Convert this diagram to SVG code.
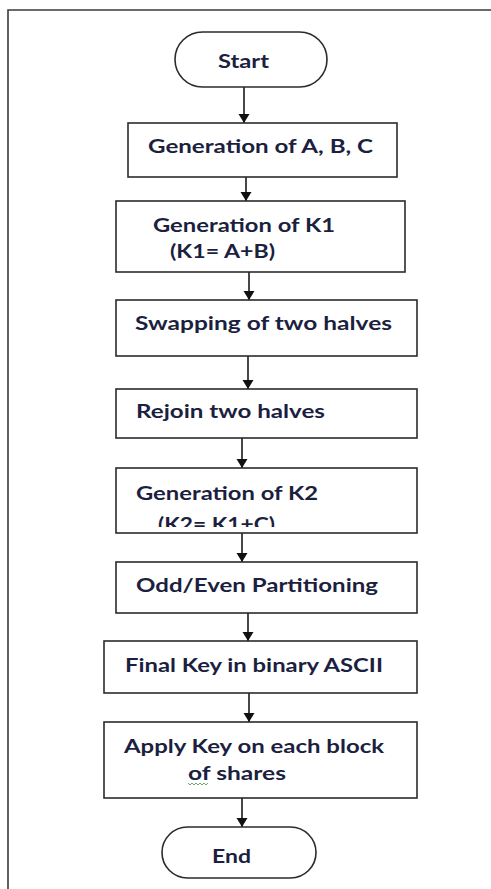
<svg xmlns="http://www.w3.org/2000/svg" width="491" height="889" viewBox="0 0 491 889">
<style>
.box{fill:#fff;stroke:#2b2b2b;stroke-width:1.6}
.t{font-family:Lato,"Open Sans","Liberation Sans",sans-serif;font-weight:bold;font-size:18px;fill:#1c1f40}
.c{stroke:#1a1a1a;stroke-width:1.6;fill:none}
</style>
<defs>
<marker id="ah" markerWidth="10" markerHeight="12" refX="9" refY="5.5" orient="auto" markerUnits="userSpaceOnUse">
<path d="M0,0 L9,5.5 L0,11 Z" fill="#111"/>
</marker>
<clipPath id="clipK2"><rect x="116" y="468" width="301" height="59"/></clipPath>
</defs>
<rect width="491" height="889" fill="#fff"/>
<path d="M8,889 V10 H491" fill="none" stroke="#3a3a3a" stroke-width="1.6"/>

<g id="connectors">
<line class="c" x1="244" y1="80" x2="244" y2="123" marker-end="url(#ah)"/>
<line class="c" x1="246" y1="172" x2="246" y2="201" marker-end="url(#ah)"/>
<line class="c" x1="249" y1="266" x2="249" y2="300" marker-end="url(#ah)"/>
<line class="c" x1="248" y1="350" x2="248" y2="389" marker-end="url(#ah)"/>
<line class="c" x1="242" y1="434" x2="242" y2="468" marker-end="url(#ah)"/>
<line class="c" x1="242" y1="533" x2="242" y2="562" marker-end="url(#ah)"/>
<line class="c" x1="248" y1="613" x2="248" y2="641" marker-end="url(#ah)"/>
<line class="c" x1="249" y1="693" x2="249" y2="722" marker-end="url(#ah)"/>
<line class="c" x1="242" y1="798" x2="242" y2="827" marker-end="url(#ah)"/>
</g>

<g id="start">
<rect class="box" x="175" y="32" width="152" height="55" rx="27.5" ry="27.5"/>
<text class="t" x="218" y="68" textLength="51" lengthAdjust="spacingAndGlyphs">Start</text>
</g>

<g id="genABC">
<rect class="box" x="128" y="123" width="269" height="54"/>
<text class="t" x="148" y="153" textLength="225" lengthAdjust="spacingAndGlyphs">Generation of A, B, C</text>
</g>

<g id="genK1">
<rect class="box" x="116" y="201" width="289" height="71"/>
<text class="t" x="153" y="232" textLength="182" lengthAdjust="spacingAndGlyphs">Generation of K1</text>
<text class="t" x="170" y="258" textLength="105" lengthAdjust="spacingAndGlyphs">(K1= A+B)</text>
</g>

<g id="swap">
<rect class="box" x="116" y="300" width="301" height="56"/>
<text class="t" x="135" y="330" textLength="257" lengthAdjust="spacingAndGlyphs">Swapping of two halves</text>
</g>

<g id="rejoin">
<rect class="box" x="116" y="389" width="301" height="49"/>
<text class="t" x="136" y="418" textLength="189" lengthAdjust="spacingAndGlyphs">Rejoin two halves</text>
</g>

<g id="genK2">
<rect class="box" x="116" y="468" width="301" height="65"/>
<text class="t" x="136" y="500" textLength="182" lengthAdjust="spacingAndGlyphs">Generation of K2</text>
<text class="t" x="158" y="531" textLength="117" lengthAdjust="spacingAndGlyphs" clip-path="url(#clipK2)">(K2= K1+C)</text>
</g>

<g id="oddeven">
<rect class="box" x="116" y="562" width="301" height="51"/>
<text class="t" x="136" y="592" textLength="242" lengthAdjust="spacingAndGlyphs">Odd/Even Partitioning</text>
</g>

<g id="finalkey">
<rect class="box" x="104" y="641" width="313" height="52"/>
<text class="t" x="125" y="672" textLength="258" lengthAdjust="spacingAndGlyphs">Final Key in binary ASCII</text>
</g>

<g id="apply">
<rect class="box" x="104" y="722" width="313" height="76"/>
<text class="t" x="124" y="753" textLength="260" lengthAdjust="spacingAndGlyphs">Apply Key on each block</text>
<text class="t" x="188" y="780" textLength="98" lengthAdjust="spacingAndGlyphs">of shares</text>
<path d="M188,783 l2,2 l2,-2 l2,2 l2,-2 l2,2 l2,-2 l2,2 l2,-2 l2,2 l2,-2" fill="none" stroke="#3a9a3a" stroke-width="0.8"/>
</g>

<g id="end">
<rect class="box" x="162" y="827" width="154" height="51" rx="25.5" ry="25.5"/>
<text class="t" x="212" y="863" textLength="39" lengthAdjust="spacingAndGlyphs">End</text>
</g>
</svg>
